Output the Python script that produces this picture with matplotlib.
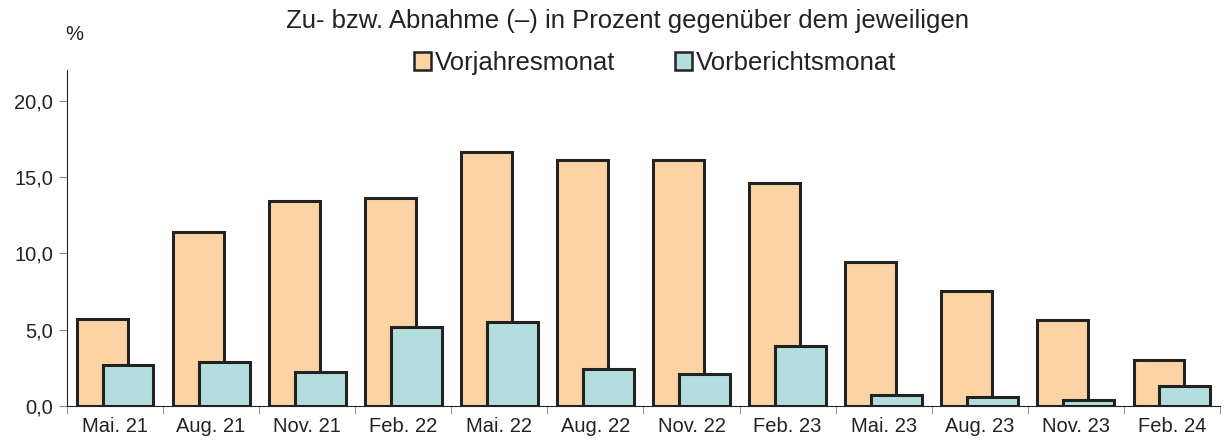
import matplotlib.pyplot as plt
import numpy as np
from matplotlib.patches import Patch

plt.rcParams['font.family'] = ['Liberation Sans', 'DejaVu Sans']

categories = ['Mai. 21', 'Aug. 21', 'Nov. 21', 'Feb. 22', 'Mai. 22', 'Aug. 22',
              'Nov. 22', 'Feb. 23', 'Mai. 23', 'Aug. 23', 'Nov. 23', 'Feb. 24']
vorjahr = [5.7, 11.4, 13.4, 13.6, 16.6, 16.1, 16.1, 14.6, 9.4, 7.5, 5.6, 3.0]
vorbericht = [2.7, 2.9, 2.2, 5.2, 5.5, 2.4, 2.1, 3.9, 0.7, 0.6, 0.4, 1.3]

c_orange = '#FCD4A4'
c_blue = '#B4DEDD'
edge = '#222222'

fig = plt.figure(figsize=(12.29, 4.43), dpi=100)
ax = fig.add_axes([67 / 1229, 1 - 406 / 443, (1220 - 67) / 1229, (406 - 70) / 443])

x = np.arange(len(categories))
w = 0.53
ax.bar(x - 0.135, vorjahr, w, color=c_orange, edgecolor=edge, linewidth=2.2, zorder=2)
ax.bar(x + 0.135, vorbericht, w, color=c_blue, edgecolor=edge, linewidth=2.2, zorder=3)

ax.set_xlim(-0.5, len(categories) - 0.5)
ax.set_ylim(0, 22)
ax.set_yticks([0, 5, 10, 15, 20])
ax.set_yticklabels(['0,0', '5,0', '10,0', '15,0', '20,0'])
ax.set_xticks(x)
ax.set_xticklabels(categories)
ax.set_xticks(np.arange(len(categories) + 1) - 0.5, minor=True)
ax.tick_params(axis='x', which='major', length=0, pad=8, labelsize=14.5, colors='#222222')
ax.tick_params(axis='x', which='minor', length=6, direction='out', color='#888888')
ax.tick_params(axis='y', length=6, direction='out', color='#888888', labelsize=14.5, pad=4)
for lab in ax.get_xticklabels() + ax.get_yticklabels():
    lab.set_color('#222222')

ax.spines['top'].set_visible(False)
ax.spines['right'].set_visible(False)
ax.spines['left'].set_color('#222222')
ax.spines['bottom'].set_color('#222222')

fig.text(628 / 1229, 1 - 21 / 443, 'Zu- bzw. Abnahme (–) in Prozent gegenüber dem jeweiligen',
         ha='center', va='center', fontsize=18.5, color='#222222')
fig.text(74 / 1229, 1 - 35 / 443, '%', ha='center', va='center', fontsize=14.5, color='#222222')

handles = [Patch(facecolor=c_orange, edgecolor=edge, linewidth=1.8, label='Vorjahresmonat'),
           Patch(facecolor=c_blue, edgecolor=edge, linewidth=1.8, label='Vorberichtsmonat')]
fig.legend(handles=handles, loc='center', bbox_to_anchor=(655 / 1229, 1 - 63 / 443), ncol=2,
           frameon=False, fontsize=18.5, handlelength=0.66, handleheight=0.66, handletextpad=0.16,
           columnspacing=2.3, labelcolor='#222222', borderpad=0)

fig.savefig('out.png', dpi=100)
